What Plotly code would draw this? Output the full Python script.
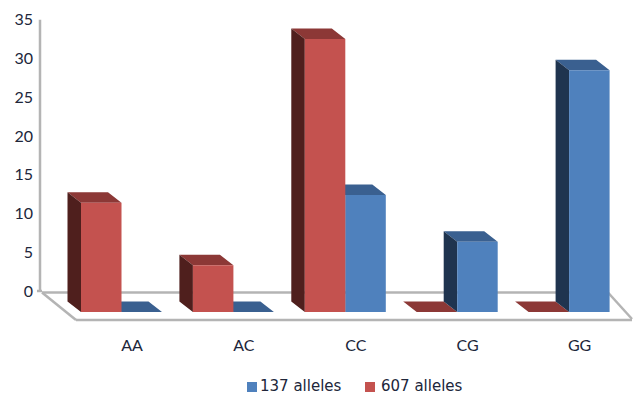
import plotly.graph_objects as go

# Genotype frequencies for the two allele panels
categories = ["AA", "AC", "CC", "CG", "GG"]
alleles_607 = [14, 6, 35, 0, 0]
alleles_137 = [0, 0, 15, 9, 31]
value_ticks = [0, 5, 10, 15, 20, 25, 30, 35]
series_names = ["137 alleles", "607 alleles"]

W, H = 633, 396
STEP = 111.9          # pixels between category positions
ORIGIN = 121.5        # pixel of category 0
UNIT = 7.8            # pixels per value unit, front plane
BASE = 312            # pixel of value 0, front plane
WALL_UNIT = 7.75      # pixels per value unit on the back wall
WALL_BASE = 291       # pixel of value 0 on the back wall
BAR_W = 40.5 / STEP
DX = 13.5 / STEP      # bar depth along x
DY = 10.5 / UNIT      # bar depth along y

RED, RED_SIDE, RED_TOP = "#C4524F", "#4F1F1D", "#8C3836"
BLUE, BLUE_SIDE, BLUE_TOP = "#4F81BD", "#1F344F", "#3A6090"
FRAME = "#B4B4B4"
TEXT = "#20263A"

x_range = [-ORIGIN / STEP, (W - ORIGIN) / STEP]
y_range = [(BASE - H) / UNIT, BASE / UNIT]
wall_range = [(WALL_BASE - H) / WALL_UNIT, WALL_BASE / WALL_UNIT]


def depth_faces(values, left):
    """Outline the side and top faces of each bar as gapped polygon paths."""
    sx, sy, tx, ty = [], [], [], []
    for i, v in enumerate(values):
        x0 = i + left
        x1 = x0 + BAR_W
        sx += [x0, x0 - DX, x0 - DX, x0, x0, None]
        sy += [0, DY, v + DY, v, 0, None]
        tx += [x0, x1, x1 - DX, x0 - DX, x0, None]
        ty += [v, v, v + DY, v + DY, v, None]
    return sx, sy, tx, ty


def face(x, y, color):
    return go.Scatter(x=x, y=y, mode="lines", fill="toself", fillcolor=color,
                      line=dict(width=0, color=color), hoverinfo="skip",
                      showlegend=False, xaxis="x", yaxis="y")


fig = go.Figure()

# Depth faces first: red series, then blue so a tall blue side hides a flat red top
for values, left, side, top in [(alleles_607, -BAR_W, RED_SIDE, RED_TOP),
                                (alleles_137, 0, BLUE_SIDE, BLUE_TOP)]:
    sx, sy, tx, ty = depth_faces(values, left)
    fig.add_trace(face(tx, ty, top))
    fig.add_trace(face(sx, sy, side))

# Front faces sit on an overlaid subplot so they cover the depth faces
idx = list(range(len(categories)))
fig.add_trace(go.Bar(x=idx, y=alleles_137, name=series_names[0], width=BAR_W, offset=0,
                     marker=dict(color=BLUE, line=dict(width=0)),
                     xaxis="x2", yaxis="y2"))
fig.add_trace(go.Bar(x=idx, y=alleles_607, name=series_names[1], width=BAR_W, offset=-BAR_W,
                     marker=dict(color=RED, line=dict(width=0)),
                     xaxis="x2", yaxis="y2"))

# Back wall line, on the axis that carries the value labels
wall_x = (40 - ORIGIN) / STEP
fig.add_trace(go.Scatter(x=[wall_x, wall_x], y=[value_ticks[0], value_ticks[-1]],
                         mode="lines", line=dict(color=FRAME, width=2.5),
                         hoverinfo="skip", showlegend=False, xaxis="x", yaxis="y3"))


def edge(x0, y0, x1, y1):
    return dict(type="line", xref="paper", yref="paper", layer="below",
                x0=x0 / W, x1=x1 / W, y0=1 - y0 / H, y1=1 - y1 / H,
                line=dict(color=FRAME, width=2.5))


def key_swatch(x0, color):
    return dict(type="rect", xref="paper", yref="paper", layer="above",
                x0=x0 / W, x1=(x0 + 10) / W, y0=1 - 392 / H, y1=1 - 382 / H,
                fillcolor=color, line=dict(width=0))


def key_label(x0, text):
    return dict(text=text, xref="paper", yref="paper", x=x0 / W, y=1 - 386 / H,
                xanchor="left", yanchor="middle", showarrow=False,
                font=dict(family="DejaVu Sans", size=15, color=TEXT))


fig.update_layout(
    width=W, height=H,
    margin=dict(l=0, r=0, t=0, b=0, autoexpand=False),
    paper_bgcolor="white", plot_bgcolor="white",
    barmode="overlay",
    showlegend=False,
    font=dict(family="Lato", size=16, color=TEXT),
    shapes=[
        edge(42, 292.5, 76, 320),
        edge(76, 320, 632, 320),
        edge(42, 292.5, 608, 292.5),
        edge(608, 292.5, 632, 319),
        edge(37, 291, 42, 291),
        key_swatch(247, BLUE),
        key_swatch(365, RED),
    ],
    annotations=[key_label(258, series_names[0]), key_label(379, series_names[1])],
    xaxis=dict(range=x_range, domain=[0, 1], anchor="free", position=1 - 334 / H,
               tickmode="array", tickvals=[i + 10.5 / STEP for i in idx], ticktext=categories,
               showgrid=False, zeroline=False, showline=False, ticks="", ticklen=0,
               automargin=False),
    yaxis=dict(range=y_range, domain=[0, 1], visible=False, automargin=False),
    xaxis2=dict(range=x_range, overlaying="x", visible=False, automargin=False),
    yaxis2=dict(range=y_range, overlaying="y", visible=False, automargin=False, anchor="x2"),
    yaxis3=dict(range=wall_range, overlaying="y", anchor="free", position=33 / W,
                tickmode="array", tickvals=value_ticks,
                showgrid=False, zeroline=False, showline=False, ticks="",
                automargin=False),
)

fig.write_html("out.html", config=dict(displayModeBar=False))
